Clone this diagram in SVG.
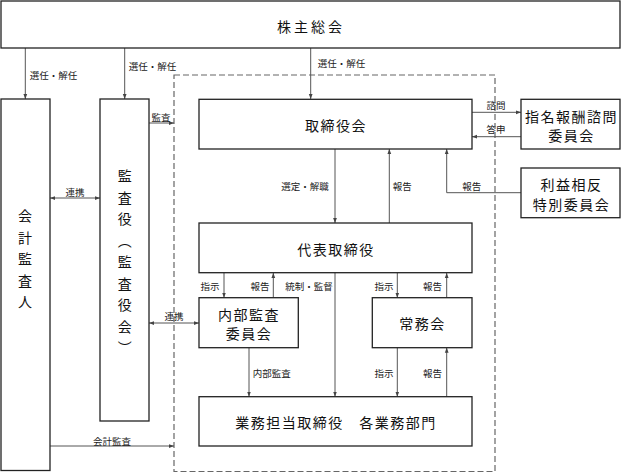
<svg xmlns="http://www.w3.org/2000/svg" width="621" height="472" viewBox="0 0 621 472">
<style>
.box{fill:#fff;stroke:#222;stroke-width:1.3}
.ln{fill:none;stroke:#555;stroke-width:1}
.dash{fill:none;stroke:#666;stroke-width:1.2;stroke-dasharray:6 3}
.t{font-family:"Noto Sans CJK JP","Noto Sans CJK SC",sans-serif;font-size:14px;fill:#111;text-anchor:middle;dominant-baseline:central;letter-spacing:1.5px}
.s{font-family:"Noto Sans CJK JP","Noto Sans CJK SC",sans-serif;font-size:9.5px;fill:#222;text-anchor:middle;dominant-baseline:central}
.v{font-family:"Noto Sans CJK JP","Noto Sans CJK SC",sans-serif;font-size:14px;fill:#111;writing-mode:vertical-rl;letter-spacing:7.5px}
</style>
<defs>
<marker id="ah" viewBox="0 0 8 8" refX="8" refY="4" markerWidth="5" markerHeight="5" orient="auto-start-reverse" markerUnits="userSpaceOnUse">
<path d="M0,1 L8,4 L0,7 z" fill="#444"/>
</marker>
</defs>
<rect class="dash" x="174" y="75" width="321" height="396.5"/>
<g id="connectors">
<line class="ln" x1="25.3" y1="48" x2="25.3" y2="99" marker-end="url(#ah)"/>
<line class="ln" x1="124.7" y1="48" x2="124.7" y2="99" marker-end="url(#ah)"/>
<line class="ln" x1="310.7" y1="48" x2="310.7" y2="99" marker-end="url(#ah)"/>
<line class="ln" x1="50" y1="198" x2="100" y2="198" marker-start="url(#ah)" marker-end="url(#ah)"/>
<line class="ln" x1="149" y1="123" x2="174" y2="123" marker-end="url(#ah)"/>
<line class="ln" x1="149" y1="323" x2="199" y2="323" marker-start="url(#ah)" marker-end="url(#ah)"/>
<line class="ln" x1="50" y1="446" x2="174" y2="446" marker-end="url(#ah)"/>
<line class="ln" x1="472" y1="112.3" x2="521" y2="112.3" marker-end="url(#ah)"/>
<line class="ln" x1="521" y1="136.7" x2="472" y2="136.7" marker-end="url(#ah)"/>
<line class="ln" x1="335" y1="149" x2="335" y2="223" marker-end="url(#ah)"/>
<line class="ln" x1="389.3" y1="223" x2="389.3" y2="149" marker-end="url(#ah)"/>
<polyline class="ln" points="521,192.7 446.7,192.7 446.7,149" marker-end="url(#ah)"/>
<line class="ln" x1="224" y1="273" x2="224" y2="297.7" marker-end="url(#ah)"/>
<line class="ln" x1="273.3" y1="297.7" x2="273.3" y2="273" marker-end="url(#ah)"/>
<line class="ln" x1="335" y1="273" x2="335" y2="396.7" marker-end="url(#ah)"/>
<line class="ln" x1="397.3" y1="273" x2="397.3" y2="297.7" marker-end="url(#ah)"/>
<line class="ln" x1="446.7" y1="297.7" x2="446.7" y2="273" marker-end="url(#ah)"/>
<line class="ln" x1="249" y1="347.7" x2="249" y2="396.7" marker-end="url(#ah)"/>
<line class="ln" x1="397.3" y1="347.7" x2="397.3" y2="396.7" marker-end="url(#ah)"/>
<line class="ln" x1="446.7" y1="396.7" x2="446.7" y2="347.7" marker-end="url(#ah)"/>
<text class="s" x="53.5" y="75">選任・解任</text>
<text class="s" x="152.5" y="66">選任・解任</text>
<text class="s" x="341.5" y="63">選任・解任</text>
<text class="s" x="161" y="117">監査</text>
<text class="s" x="75" y="191.5">連携</text>
<text class="s" x="174" y="315.5">連携</text>
<text class="s" x="112" y="440.5">会計監査</text>
<text class="s" x="496" y="105">諮問</text>
<text class="s" x="496" y="129">答申</text>
<text class="s" x="305" y="186">選定・解職</text>
<text class="s" x="402.3" y="186">報告</text>
<text class="s" x="471.7" y="186">報告</text>
<text class="s" x="210" y="286">指示</text>
<text class="s" x="260" y="286">報告</text>
<text class="s" x="309" y="286">統制・監督</text>
<text class="s" x="384" y="286">指示</text>
<text class="s" x="432.5" y="286">報告</text>
<text class="s" x="271.7" y="373">内部監査</text>
<text class="s" x="384" y="373">指示</text>
<text class="s" x="432.5" y="373">報告</text>
</g>
<g id="shareholders">
<rect class="box" x="1" y="1" width="619" height="47"/>
<text class="t" x="311" y="26" style="letter-spacing:3px">株主総会</text>
</g>
<g id="accounting-auditor">
<rect class="box" x="1" y="99" width="49" height="371.5"/>
<text class="v" x="25" y="209">会計監査人</text>
</g>
<g id="auditors">
<rect class="box" x="100" y="99" width="49" height="322"/>
<text class="v" x="124.7" y="169">監査役（監査役会）</text>
</g>
<g id="board">
<rect class="box" x="199" y="99.3" width="273" height="49.7"/>
<text class="t" x="336" y="125">取締役会</text>
</g>
<g id="nomination">
<rect class="box" x="521" y="99.3" width="99" height="49.7"/>
<text class="t"><tspan x="571.5" y="115.5">指名報酬諮問</tspan><tspan x="571.5" y="135">委員会</tspan></text>
</g>
<g id="conflict">
<rect class="box" x="521" y="168" width="99" height="49.7"/>
<text class="t"><tspan x="571.5" y="184">利益相反</tspan><tspan x="571.5" y="203.5">特別委員会</tspan></text>
</g>
<g id="representative">
<rect class="box" x="199" y="223" width="273" height="49.7"/>
<text class="t" x="336" y="249">代表取締役</text>
</g>
<g id="internal-audit">
<rect class="box" x="199" y="297.7" width="99.3" height="50"/>
<text class="t"><tspan x="249" y="313.5">内部監査</tspan><tspan x="249" y="332.5">委員会</tspan></text>
</g>
<g id="executive">
<rect class="box" x="372.3" y="297.7" width="99.7" height="50"/>
<text class="t" x="422.5" y="323">常務会</text>
</g>
<g id="business">
<rect class="box" x="199" y="396.7" width="273" height="49.3"/>
<text class="t" x="336" y="422">業務担当取締役　各業務部門</text>
</g>
</svg>
